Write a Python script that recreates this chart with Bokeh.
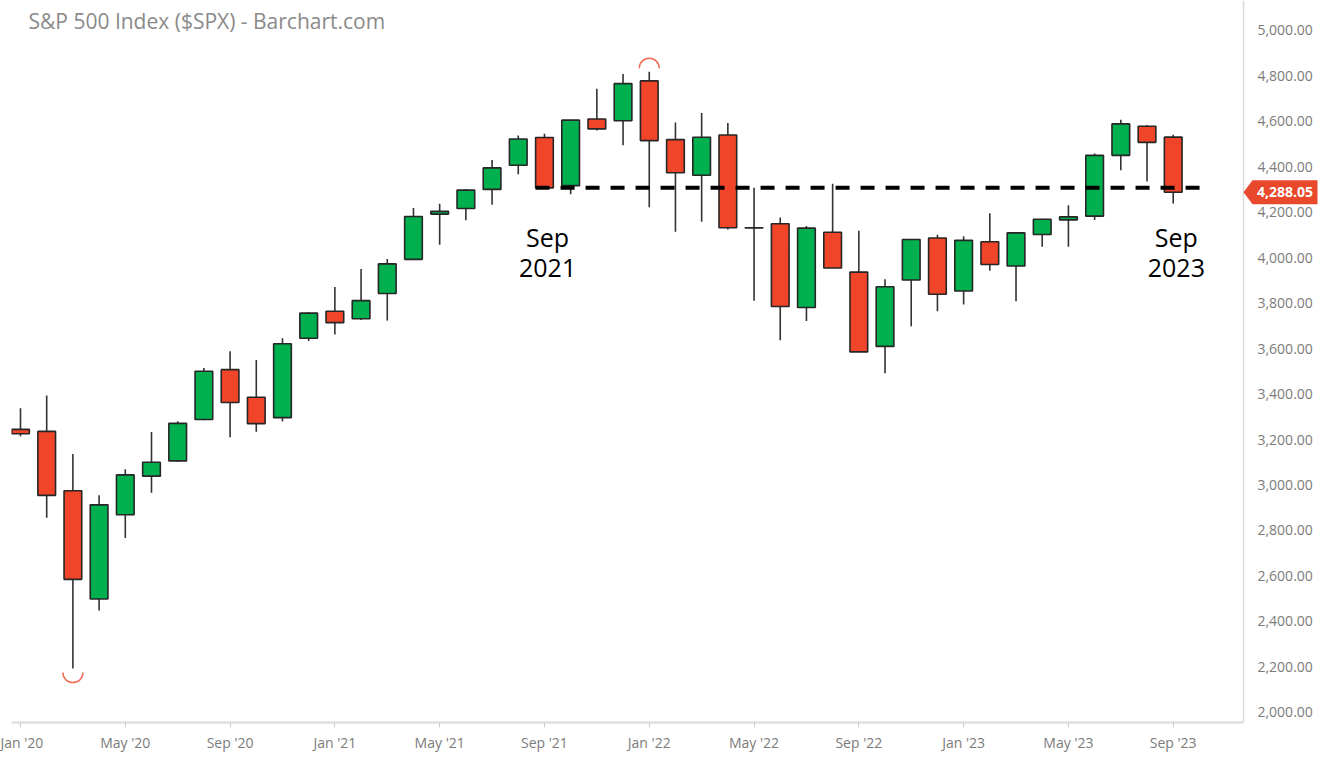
from math import pi
from bokeh.plotting import figure
from bokeh.models import Range1d, FixedTicker, NumeralTickFormatter, Label, PolyAnnotation
from bokeh.embed import file_html
from bokeh.resources import INLINE

# ---- data (monthly S&P 500, Jan 2020 .. Sep 2023) ----
months = ["Jan 2020", "Feb 2020", "Mar 2020", "Apr 2020", "May 2020", "Jun 2020", "Jul 2020", "Aug 2020",
          "Sep 2020", "Oct 2020", "Nov 2020", "Dec 2020", "Jan 2021", "Feb 2021", "Mar 2021", "Apr 2021",
          "May 2021", "Jun 2021", "Jul 2021", "Aug 2021", "Sep 2021", "Oct 2021", "Nov 2021", "Dec 2021",
          "Jan 2022", "Feb 2022", "Mar 2022", "Apr 2022", "May 2022", "Jun 2022", "Jul 2022", "Aug 2022",
          "Sep 2022", "Oct 2022", "Nov 2022", "Dec 2022", "Jan 2023", "Feb 2023", "Mar 2023", "Apr 2023",
          "May 2023", "Jun 2023", "Jul 2023", "Aug 2023", "Sep 2023"]

opens = [3244.67, 3235.66, 2974.28, 2498.08, 2869.09, 3038.78, 3105.92, 3288.26, 3507.44, 3385.87, 3296.20, 3645.87,
         3764.61, 3731.17, 3842.51, 3992.78, 4191.98, 4216.52, 4300.73, 4406.86, 4528.80, 4317.16, 4610.62, 4602.82,
         4778.14, 4519.57, 4363.14, 4540.32, 4130.61, 4149.78, 3781.00, 4112.38, 3936.73, 3609.78, 3901.79, 4087.14,
         3853.29, 4070.07, 3963.34, 4102.20, 4166.79, 4183.03, 4450.48, 4578.83, 4530.60]

highs = [3337.77, 3393.52, 3136.72, 2954.86, 3068.67, 3233.13, 3279.99, 3514.77, 3588.11, 3549.85, 3645.99, 3760.20,
         3870.90, 3950.43, 3994.41, 4218.78, 4238.04, 4302.43, 4429.97, 4537.36, 4545.85, 4608.08, 4743.83, 4808.93,
         4818.62, 4595.31, 4637.30, 4593.45, 4307.66, 4177.51, 4140.15, 4325.28, 4119.28, 3905.42, 4080.11, 4100.96,
         4094.21, 4195.44, 4110.75, 4170.06, 4231.10, 4458.48, 4607.07, 4584.62, 4541.25]

lows = [3214.64, 2855.84, 2191.86, 2447.49, 2766.64, 2965.66, 3101.17, 3284.53, 3209.45, 3233.94, 3279.74, 3633.40,
        3662.71, 3725.62, 3723.34, 3992.78, 4056.88, 4164.40, 4233.13, 4367.73, 4305.91, 4278.94, 4560.00, 4495.12,
        4222.62, 4114.65, 4157.87, 4124.28, 3810.32, 3636.87, 3721.56, 3954.53, 3584.13, 3491.58, 3698.15, 3764.49,
        3794.33, 3943.08, 3808.86, 4048.28, 4048.28, 4166.15, 4385.05, 4335.31, 4238.63]

closes = [3225.52, 2954.22, 2584.59, 2912.43, 3044.31, 3100.29, 3271.12, 3500.31, 3363.00, 3269.96, 3621.63, 3756.07,
          3714.24, 3811.15, 3972.89, 4181.17, 4204.11, 4297.50, 4395.26, 4522.68, 4307.54, 4605.38, 4567.00, 4766.18,
          4515.55, 4373.94, 4530.41, 4131.93, 4132.15, 3785.38, 4130.29, 3955.00, 3585.62, 3871.98, 4080.11, 3839.50,
          4076.60, 3970.15, 4109.31, 4169.48, 4179.83, 4450.38, 4588.96, 4507.66, 4288.05]

tick_positions = [0, 4, 8, 12, 16, 20, 24, 28, 32, 36, 40, 44]
tick_labels = ["Jan '20", "May '20", "Sep '20", "Jan '21", "May '21", "Sep '21",
               "Jan '22", "May '22", "Sep '22", "Jan '23", "May '23", "Sep '23"]
y_ticks = [2000, 2200, 2400, 2600, 2800, 3000, 3200, 3400, 3600, 3800, 4000, 4200, 4400, 4600, 4800, 5000]

support_month = "Sep 2021"
note_months = ["Sep 2021", "Sep 2023"]
note_lines = [("Sep", "2021"), ("Sep", "2023")]

# ---- style ----
GREEN = "#00b04f"
RED = "#f04529"
OUTLINE = "#262626"
GRAY_TXT = "#7b7b7b"
AXIS_GRAY = "#dadada"
TAG = "#e8482c"

W, H = 1319, 754
BORDER_L, BORDER_R, BORDER_T, BORDER_B = 11, 0, 0, 32
Y0, Y1 = 1954.7, 5132.0
X0, X1 = -0.3435, 49.584     # frame spans the whole width
X_AX = 46.683                # where the price axis line sits

idx = list(range(len(months)))
tops = [max(o, c) for o, c in zip(opens, closes)]
bots = [min(o, c) for o, c in zip(opens, closes)]
cols = [GREEN if c >= o else RED for o, c in zip(opens, closes)]

p = figure(width=W, height=H, output_backend="svg", toolbar_location=None,
           x_range=Range1d(X0, X1), y_range=Range1d(Y0, Y1),
           y_axis_location="right",
           min_border_left=BORDER_L, min_border_right=BORDER_R,
           min_border_top=BORDER_T, min_border_bottom=BORDER_B)
p.outline_line_color = None
p.grid.visible = False
p.background_fill_color = "white"
p.border_fill_color = "white"

frame_w = W - BORDER_L - BORDER_R
frame_h = H - BORDER_T - BORDER_B
px_per_pt = frame_h / (Y1 - Y0)
px_per_x = frame_w / (X1 - X0)

# axes
xa = p.xaxis[0]
xa.ticker = FixedTicker(ticks=tick_positions)
xa.major_label_overrides = {t: l for t, l in zip(tick_positions, tick_labels)}
xa.bounds = (X0, X_AX)
xa.axis_line_color = AXIS_GRAY
xa.axis_line_width = 2
xa.major_tick_line_color = "#cfcfcf"
xa.major_tick_out = 5
xa.major_tick_in = 0
xa.minor_tick_line_color = None
xa.major_label_standoff = 5
xa.major_label_text_font = "Open Sans"
xa.major_label_text_font_size = "14px"
xa.major_label_text_color = GRAY_TXT

ya = p.yaxis[0]
ya.fixed_location = X_AX
ya.ticker = FixedTicker(ticks=y_ticks)
ya.formatter = NumeralTickFormatter(format="0,0.00")
ya.axis_line_color = AXIS_GRAY
ya.axis_line_width = 1.5
ya.major_tick_line_color = None
ya.major_tick_out = 0
ya.major_tick_in = 0
ya.minor_tick_line_color = None
ya.major_label_standoff = 14
ya.major_label_text_font = "Open Sans"
ya.major_label_text_font_size = "14px"
ya.major_label_text_color = GRAY_TXT

# candles
p.segment(x0=idx, y0=lows, x1=idx, y1=highs, line_color="#333333", line_width=1.6)
p.vbar(x=idx, width=0.675, top=tops, bottom=bots, fill_color=cols,
       line_color=OUTLINE, line_width=1.6)

# support line at Sep 2021 close
si = months.index(support_month)
sup = closes[si]
p.line(x=[si - 0.34, idx[-1] + 1.3], y=[sup, sup], line_color="black",
       line_width=4, line_dash="14 11", line_cap="butt")

# arcs at the extreme high / low
hi_i = highs.index(max(highs))
lo_i = lows.index(min(lows))
p.arc(x=[hi_i], y=[highs[hi_i] + 3.5 / px_per_pt], radius=10, radius_units="screen",
      start_angle=0, end_angle=pi, direction="anticlock", line_color="#f26a58", line_width=1.5)
p.arc(x=[lo_i], y=[lows[lo_i] - 4.0 / px_per_pt], radius=10, radius_units="screen",
      start_angle=pi, end_angle=2 * pi, direction="anticlock", line_color="#f26a58", line_width=1.5)

# handwritten-style notes (two lines each)
for m, (l1, l2) in zip(note_months, note_lines):
    i = months.index(m)
    for txt, ypix in ((l1, 236), (l2, 267)):
        p.add_layout(Label(x=i + 0.12, y=Y1 - ypix / px_per_pt, text=txt, text_align="center",
                           text_baseline="middle", text_font="Open Sans", text_font_size="25px",
                           text_color="black"))

# title
p.add_layout(Label(x=17, x_units="screen", y=Y1 - 20 / px_per_pt,
                   text="S&P 500 Index ($SPX) - Barchart.com",
                   text_baseline="middle", text_align="left", text_font="Open Sans",
                   text_font_size="21px", text_color="#8a8a8a"))

# last price tag on the price axis
last = closes[-1]
hh = 12 / px_per_pt
ax_px = (X_AX - X0) * px_per_x
tx = lambda d: X_AX + d / px_per_x
p.add_layout(PolyAnnotation(xs=[tx(0), tx(9), tx(74), tx(74), tx(9)],
                            ys=[last, last + hh, last + hh, last - hh, last - hh],
                            fill_color=TAG, fill_alpha=1.0, line_color=None))
p.add_layout(Label(x=tx(41.5), y=last, text=f"{last:,.2f}",
                   text_align="center", text_baseline="middle", text_font="Open Sans",
                   text_font_size="14px", text_font_style="bold", text_color="white"))

open("out.html", "w").write(file_html(p, INLINE))
